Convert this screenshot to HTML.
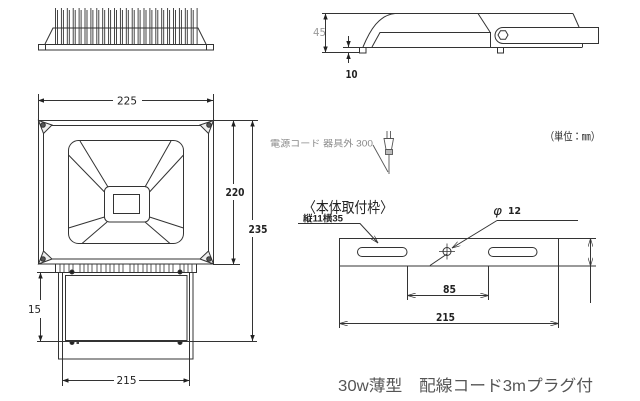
<!DOCTYPE html>
<html><head><meta charset="utf-8"><style>
html,body{margin:0;padding:0;background:#fff;}
svg{display:block;}
text{font-family:"DejaVu Sans","Liberation Sans","Noto Sans CJK JP",sans-serif;fill:#222;}
.j{font-family:"Liberation Sans","Noto Sans CJK JP",sans-serif;}
</style></head><body>
<svg width="640" height="401" viewBox="0 0 640 401" xmlns="http://www.w3.org/2000/svg">
<defs>
<marker id="fa" viewBox="0 0 8 6" refX="8" refY="3" markerWidth="6" markerHeight="4.5" orient="auto-start-reverse" markerUnits="userSpaceOnUse"><path d="M0,0 L8,3 L0,6 Z" fill="#222"/></marker>
<marker id="oa" viewBox="0 0 10 6" refX="10" refY="3" markerWidth="9" markerHeight="5" orient="auto-start-reverse" markerUnits="userSpaceOnUse"><path d="M0,0 L10,3 L0,6" fill="none" stroke="#333" stroke-width="0.8"/></marker>
</defs>
<g fill="none" stroke="#333" stroke-width="1">
<!-- TOP HEATSINK VIEW -->
<rect x="38.5" y="44.5" width="175" height="5.5"/>
<line x1="45.5" y1="44" x2="45.5" y2="50"/>
<line x1="206.5" y1="44" x2="206.5" y2="50"/>
<polyline points="45,44 53,28 198,28 206,44"/>
<g stroke="#333" stroke-width="0.9">
<path d="M55.5,8V44M57.5,10V44M61.4,8V44M63.4,10V44M67.3,8V44M69.3,10V44M73.2,8V44M75.2,10V44M79.1,8V44M81.1,10V44M85,8V44M87,10V44M90.9,8V44M92.9,10V44M96.8,8V44M98.8,10V44M102.7,8V44M104.7,10V44M108.6,8V44M110.6,10V44M114.5,8V44M116.5,10V44M120.4,8V44M122.4,10V44M126.3,8V44M128.3,10V44M132.2,8V44M134.2,10V44M138.1,8V44M140.1,10V44M144,8V44M146,10V44M149.9,8V44M151.9,10V44M155.8,8V44M157.8,10V44M161.7,8V44M163.7,10V44M167.6,8V44M169.6,10V44M173.5,8V44M175.5,10V44M179.4,8V44M181.4,10V44M185.3,8V44M187.3,10V44M191.2,8V44M193.2,10V44M197.1,8V44"/>
</g>

<!-- SIDE VIEW -->
<line x1="322" y1="13.5" x2="573" y2="13.5"/>
<path d="M395,13.5 C379,15 370,30 363,47"/>
<path d="M372,47 L380,32.5 L490.5,32.5 L490.5,47"/>
<line x1="478" y1="13.5" x2="490" y2="32"/>
<line x1="573" y1="13.5" x2="579" y2="27"/>
<line x1="359" y1="47.5" x2="582" y2="47.5"/>
<rect x="359.5" y="47.5" width="6.5" height="5.5"/>
<rect x="497.5" y="47.5" width="6" height="5.5"/>
<line x1="503" y1="43.5" x2="582.5" y2="43.5"/>
<line x1="582.5" y1="43.5" x2="582.5" y2="47.5"/>
<path d="M598.5,27.5 L503,27.5 A8,8 0 0 0 503,43.5 L598.5,43.5 Z"/>
<polygon points="508,35 505.5,39.3 500.5,39.3 498,35 500.5,30.7 505.5,30.7"/>
<!-- 45 dim -->
<line x1="325.5" y1="13.5" x2="325.5" y2="52.5" marker-start="url(#fa)" marker-end="url(#fa)"/>
<line x1="322" y1="52.5" x2="359" y2="52.5"/>
<!-- 10 dim -->
<line x1="348.5" y1="36" x2="348.5" y2="47" marker-end="url(#fa)"/>
<line x1="348.5" y1="63" x2="348.5" y2="53" marker-end="url(#fa)"/>
<line x1="343" y1="47.5" x2="359" y2="47.5"/>

<!-- FRONT VIEW -->
<line x1="38" y1="100.5" x2="113" y2="100.5" marker-start="url(#fa)"/>
<line x1="142" y1="100.5" x2="213" y2="100.5" marker-end="url(#fa)"/>
<line x1="38.5" y1="94" x2="38.5" y2="120"/>
<line x1="213.5" y1="94" x2="213.5" y2="120"/>
<rect x="38.5" y="120.5" width="175" height="143.5"/>
<rect x="43.5" y="125.5" width="165" height="133.5"/>
<!-- corner gussets -->
<path d="M38.5,120.5 L52,125 L43.5,133.5 Z" fill="#eee"/>
<path d="M213.5,120.5 L200,125 L208.5,133.5 Z" fill="#eee"/>
<path d="M38.5,264 L52,259 L43.5,251 Z" fill="#eee"/>
<path d="M213.5,264 L200,259 L208.5,251 Z" fill="#eee"/>
<circle cx="43" cy="125" r="2.3" fill="#555"/>
<circle cx="209" cy="125" r="2.3" fill="#555"/>
<circle cx="43" cy="259" r="2.3" fill="#555"/>
<circle cx="209" cy="259" r="2.3" fill="#555"/>
<!-- center -->
<rect x="68.5" y="140.5" width="115" height="103" rx="10"/>
<rect x="104.5" y="186.5" width="45" height="35.5" rx="5"/>
<rect x="113.5" y="194.5" width="26" height="19"/>
<path d="M80,141 L108,187 M68.5,155 L104.5,192 M171,141 L145,187 M183.5,155 L149.5,192 M68.5,228 L104.5,217 M82,243.5 L107,222 M183.5,228 L149.5,217 M170,243.5 L145,222"/>
<!-- 220 / 235 dims -->
<line x1="213" y1="120.5" x2="258" y2="120.5"/>
<line x1="213" y1="264.5" x2="240" y2="264.5"/>
<line x1="233.5" y1="120.5" x2="233.5" y2="184" marker-start="url(#fa)"/>
<line x1="233.5" y1="200" x2="233.5" y2="264.5" marker-end="url(#fa)"/>
<line x1="252.5" y1="120.5" x2="252.5" y2="220" marker-start="url(#fa)"/>
<line x1="252.5" y1="237" x2="252.5" y2="341" marker-end="url(#fa)"/>
<!-- fin strip -->
<rect x="55.5" y="264" width="141" height="8.5"/>
<path stroke-width="0.8" d="M60,264V272M64,264V272M69,264V272M73,264V272M80,264V272M84,264V272M88,264V272M92,264V272M97,264V272M101,264V272M106,264V272M110,264V272M114,264V272M119,264V272M123,264V272M130,264V272M134,264V272M138,264V272M143,264V272M147,264V272M151,264V272M156,264V272M160,264V272M164,264V272M169,264V272M173,264V272M180,264V272M184,264V272M188,264V272M192,264V272"/>
<!-- box -->
<rect x="58.5" y="272.5" width="134.5" height="86.5"/>
<line x1="62.5" y1="272.5" x2="62.5" y2="359"/>
<line x1="189.5" y1="272.5" x2="189.5" y2="359"/>
<rect x="65.5" y="275.5" width="121.5" height="65"/>
<circle cx="72" cy="272" r="2" fill="#222"/>
<circle cx="180" cy="272" r="2" fill="#222"/>
<circle cx="72" cy="342.5" r="2" fill="#222"/>
<circle cx="180" cy="342.5" r="2" fill="#222"/>
<rect x="76.5" y="341.5" width="2.5" height="2.5" fill="#444" stroke="none"/>
<!-- 15 dim -->
<line x1="37" y1="272.5" x2="58" y2="272.5"/>
<line x1="37" y1="341.5" x2="257" y2="341.5"/>
<line x1="40.5" y1="272.5" x2="40.5" y2="300" marker-start="url(#fa)"/>
<line x1="40.5" y1="318" x2="40.5" y2="341.5" marker-end="url(#fa)"/>
<!-- 215 dim -->
<line x1="62.5" y1="340" x2="62.5" y2="386"/>
<line x1="189.5" y1="340" x2="189.5" y2="386"/>
<line x1="62.5" y1="380.5" x2="114" y2="380.5" marker-start="url(#fa)"/>
<line x1="139" y1="380.5" x2="189.5" y2="380.5" marker-end="url(#fa)"/>

<!-- PLUG -->
<g stroke="#555" stroke-width="0.9">
<path d="M387,131V138M390.5,131V138"/>
<path d="M384,138.5 L393.5,138.5 L391.5,149.5 L386,149.5 Z"/>
<rect x="385.5" y="149.5" width="7" height="5" fill="#bbb"/>
<line x1="389" y1="154.5" x2="389" y2="174"/>
<line x1="373" y1="145" x2="388" y2="172"/>
</g>

<!-- BRACKET -->
<rect x="339.5" y="238.5" width="219" height="27.5"/>
<line x1="558" y1="238.5" x2="596" y2="238.5"/>
<line x1="558" y1="266" x2="596" y2="266"/>
<rect x="357.5" y="247.5" width="49.5" height="9" rx="4.5"/>
<rect x="488.5" y="247.5" width="48.5" height="9" rx="4.5"/>
<circle cx="447" cy="251.5" r="4"/>
<path d="M439,251.5H455M447,243.5V259.5" stroke-width="0.8"/>
<line x1="590.5" y1="238.5" x2="590.5" y2="266" marker-start="url(#oa)" marker-end="url(#oa)"/>
<line x1="590.5" y1="266" x2="590.5" y2="303"/>
<line x1="407.5" y1="266" x2="407.5" y2="300"/>
<line x1="488.5" y1="266" x2="488.5" y2="300"/>
<line x1="407.5" y1="295.5" x2="488.5" y2="295.5" marker-start="url(#oa)" marker-end="url(#oa)"/>
<line x1="339.5" y1="266" x2="339.5" y2="328"/>
<line x1="558.5" y1="266" x2="558.5" y2="328"/>
<line x1="339.5" y1="323.5" x2="558.5" y2="323.5" marker-start="url(#oa)" marker-end="url(#oa)"/>
<!-- leaders -->
<polyline points="298,223.5 360,223.5 378,243" marker-end="url(#oa)"/>
<line x1="497" y1="220.5" x2="578" y2="220.5"/>
<line x1="497" y1="220.5" x2="452" y2="248" marker-end="url(#oa)"/>
<line x1="447" y1="254" x2="430" y2="265.5"/>
</g>

<!-- TEXT -->
<text x="127" y="104.5" font-size="11" text-anchor="middle" textLength="20" lengthAdjust="spacingAndGlyphs">225</text>
<text x="235" y="196" font-size="11" font-weight="bold" text-anchor="middle" textLength="19" lengthAdjust="spacingAndGlyphs">220</text>
<text x="258" y="233" font-size="11" font-weight="bold" text-anchor="middle" textLength="19" lengthAdjust="spacingAndGlyphs">235</text>
<text x="34.5" y="313" font-size="11" text-anchor="middle" textLength="13" lengthAdjust="spacingAndGlyphs">15</text>
<text x="126.5" y="384" font-size="11" text-anchor="middle" textLength="20" lengthAdjust="spacingAndGlyphs">215</text>
<text x="319.5" y="36" font-size="11" style="fill:#999" text-anchor="middle" textLength="13" lengthAdjust="spacingAndGlyphs">45</text>
<text x="351.5" y="78" font-size="11" font-weight="bold" text-anchor="middle" textLength="12" lengthAdjust="spacingAndGlyphs">10</text>
<text x="449.5" y="293" font-size="10.5" font-weight="bold" text-anchor="middle" textLength="13" lengthAdjust="spacingAndGlyphs">85</text>
<text x="445.5" y="321" font-size="10.5" font-weight="bold" text-anchor="middle" textLength="19" lengthAdjust="spacingAndGlyphs">215</text>
<text x="493" y="215" font-size="12" font-style="italic" textLength="9" lengthAdjust="spacingAndGlyphs">φ</text>
<text x="508" y="214" font-size="9.5" font-weight="bold" textLength="13" lengthAdjust="spacingAndGlyphs">12</text>
<text class="j" x="303" y="212.5" font-size="15" textLength="90" lengthAdjust="spacingAndGlyphs">〈本体取付枠〉</text>
<text class="j" x="303" y="221.5" font-size="9" font-weight="bold" textLength="40" lengthAdjust="spacingAndGlyphs">縦11横35</text>
<text class="j" x="270" y="146.5" font-size="9" style="fill:#888" textLength="103" lengthAdjust="spacingAndGlyphs">電源コード 器具外 300</text>
<text class="j" x="545" y="140" font-size="11" textLength="55" lengthAdjust="spacingAndGlyphs">（単位：㎜）</text>
<text class="j" x="338" y="391" font-size="16" style="fill:#555" textLength="255" lengthAdjust="spacingAndGlyphs">30w薄型　配線コード3mプラグ付</text>
</svg>
</body></html>
